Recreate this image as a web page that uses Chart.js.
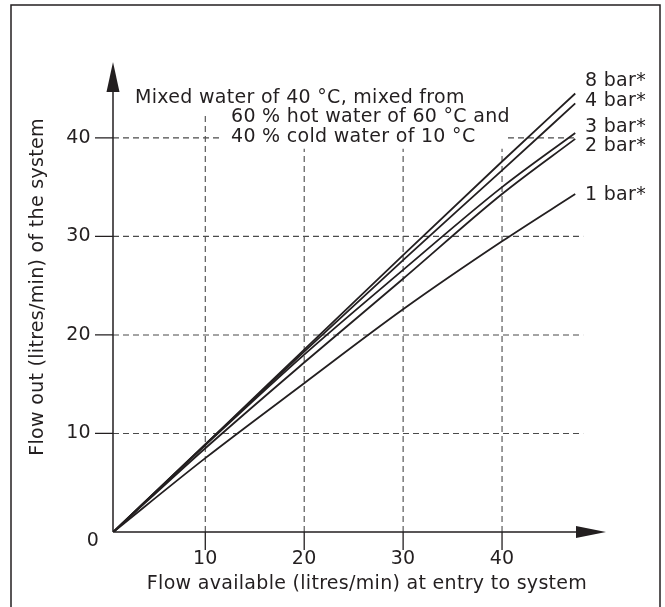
<!DOCTYPE html>
<html>
<head>
<meta charset="utf-8">
<script src="https://cdn.jsdelivr.net/npm/chart.js@4"></script>
<style>
  html, body { margin: 0; padding: 0; background: #fff; }
  #chart { display: block; }
</style>
</head>
<body>
<canvas id="chart" width="665" height="607"></canvas>
<script>
// flow available at entry (litres/min) - first point is where the axes cross
const flowAvailable = [0.7, 10, 20, 30, 40, 47.4];

// flow out of the system (litres/min) per supply pressure
const flow8bar = [0, 8.9, 18.5, 28.1, 37.6, 44.5];
const flow4bar = [0, 8.9, 18.3, 27.6, 36.7, 43.5];
const flow3bar = [0, 8.8, 18.0, 26.6, 35.0, 40.5];
const flow2bar = [0, 8.5, 17.2, 25.7, 34.3, 39.9];
const flow1bar = [0, 7.5, 15.1, 22.6, 29.5, 34.3];

const seriesLabels = ['8 bar*', '4 bar*', '3 bar*', '2 bar*', '1 bar*'];
const xTicks = [10, 20, 30, 40];
const yTicks = [10, 20, 30, 40];

const xTitle = 'Flow available (litres/min) at entry to system';
const yTitle = 'Flow out (litres/min) of the system';
const noteLines = [
  'Mixed water of 40 °C, mixed from',
  '60 % hot water of 60 °C and',
  '40 % cold water of 10 °C'
];

const ink = '#231f20';
const font = '19px "DejaVu Sans"';

const toPoints = (ys) => flowAvailable.map((x, i) => ({ x: x, y: ys[i] }));

const allSeries = [flow8bar, flow4bar, flow3bar, flow2bar, flow1bar];

const datasets = allSeries.map((ys, i) => ({
  label: seriesLabels[i],
  data: toPoints(ys),
  showLine: true,
  borderColor: ink,
  borderWidth: 1.8,
  pointRadius: 0,
  fill: false,
  cubicInterpolationMode: 'monotone'
}));

function setText(ctx) {
  ctx.font = font;
  ctx.fillStyle = ink;
  if ('letterSpacing' in ctx) ctx.letterSpacing = '0.3px';
}

// grid, axes with arrows, ticks and all the text around the plot
const diagramPlugin = {
  id: 'diagram',
  beforeDatasetsDraw(chart) {
    const ctx = chart.ctx;
    const xs = chart.scales.x;
    const ys = chart.scales.y;
    const area = chart.chartArea;
    const ox = area.left;
    const oy = area.bottom;

    ctx.save();

    // outer frame (runs off the bottom of the picture)
    ctx.strokeStyle = ink;
    ctx.lineWidth = 1.5;
    ctx.strokeRect(11, 5, 649, 640);

    // dashed grid
    ctx.strokeStyle = '#4a4a4a';
    ctx.lineWidth = 1.1;
    ctx.setLineDash([6, 4]);
    const gridRight = xs.getPixelForValue(48.2);
    yTicks.forEach((v) => {
      const py = ys.getPixelForValue(v);
      ctx.beginPath();
      if (v === 40) {
        ctx.moveTo(ox, py);
        ctx.lineTo(xs.getPixelForValue(11.5), py);
        ctx.moveTo(xs.getPixelForValue(40.6), py);
        ctx.lineTo(xs.getPixelForValue(47.6), py);
      } else {
        ctx.moveTo(ox, py);
        ctx.lineTo(gridRight, py);
      }
      ctx.stroke();
    });
    xTicks.forEach((v) => {
      const px = xs.getPixelForValue(v);
      const topVal = v === 10 ? 42.5 : 38.9;
      ctx.beginPath();
      ctx.moveTo(px, oy);
      ctx.lineTo(px, ys.getPixelForValue(topVal));
      ctx.stroke();
    });
    ctx.setLineDash([]);

    // axes
    ctx.strokeStyle = ink;
    ctx.fillStyle = ink;
    ctx.lineWidth = 1.5;
    ctx.beginPath();
    ctx.moveTo(ox, oy);
    ctx.lineTo(area.right - 28, oy);
    ctx.moveTo(ox, oy);
    ctx.lineTo(ox, area.top + 28);
    ctx.stroke();

    // arrow heads
    ctx.beginPath();
    ctx.moveTo(area.right, oy);
    ctx.lineTo(area.right - 30, oy - 6);
    ctx.lineTo(area.right - 30, oy + 6);
    ctx.closePath();
    ctx.fill();
    ctx.beginPath();
    ctx.moveTo(ox, area.top);
    ctx.lineTo(ox - 6.5, area.top + 30);
    ctx.lineTo(ox + 6.5, area.top + 30);
    ctx.closePath();
    ctx.fill();

    // tick marks
    ctx.lineWidth = 1.3;
    ctx.beginPath();
    xTicks.forEach((v) => {
      const px = xs.getPixelForValue(v);
      ctx.moveTo(px, oy);
      ctx.lineTo(px, oy + 18);
    });
    yTicks.forEach((v) => {
      const py = ys.getPixelForValue(v);
      ctx.moveTo(ox, py);
      ctx.lineTo(ox - 18, py);
    });
    ctx.stroke();

    // tick labels
    setText(ctx);
    ctx.textBaseline = 'middle';
    ctx.textAlign = 'center';
    xTicks.forEach((v) => {
      ctx.fillText(String(v), xs.getPixelForValue(v), oy + 27);
    });
    ctx.textAlign = 'right';
    yTicks.forEach((v) => {
      ctx.fillText(String(v), ox - 22, ys.getPixelForValue(v));
    });
    ctx.textAlign = 'center';
    ctx.fillText('0', ox - 20, oy + 9);

    // axis titles
    ctx.fillText(xTitle, 367, oy + 52);
    ctx.save();
    ctx.translate(38, 287);
    ctx.rotate(-Math.PI / 2);
    ctx.fillText(yTitle, 0, 0);
    ctx.restore();

    // note in the top left
    ctx.textAlign = 'left';
    ctx.fillText(noteLines[0], 135, 98);
    ctx.fillText(noteLines[1], 231, 117.5);
    ctx.fillText(noteLines[2], 231, 137);

    // series labels at the line ends
    const labelShift = [-12, -2, -6, 7, 1];
    allSeries.forEach((vals, i) => {
      const py = ys.getPixelForValue(vals[vals.length - 1]) + labelShift[i];
      ctx.fillText(seriesLabels[i], 585, py);
    });

    ctx.restore();
  }
};

const bgPlugin = {
  id: 'bg',
  beforeDraw(chart) {
    const ctx = chart.ctx;
    ctx.save();
    ctx.fillStyle = '#fff';
    ctx.fillRect(0, 0, chart.width, chart.height);
    ctx.restore();
  }
};

new Chart(document.getElementById('chart'), {
  type: 'scatter',
  data: { datasets: datasets },
  options: {
    responsive: false,
    devicePixelRatio: 1,
    animation: false,
    layout: { padding: { left: 113, right: 59, top: 62, bottom: 75 } },
    scales: {
      x: { type: 'linear', min: 0.67, max: 50.51, display: false },
      y: { type: 'linear', min: 0, max: 47.7, display: false }
    },
    plugins: {
      legend: { display: false },
      tooltip: { enabled: false }
    }
  },
  plugins: [bgPlugin, diagramPlugin]
});
</script>
</body>
</html>
